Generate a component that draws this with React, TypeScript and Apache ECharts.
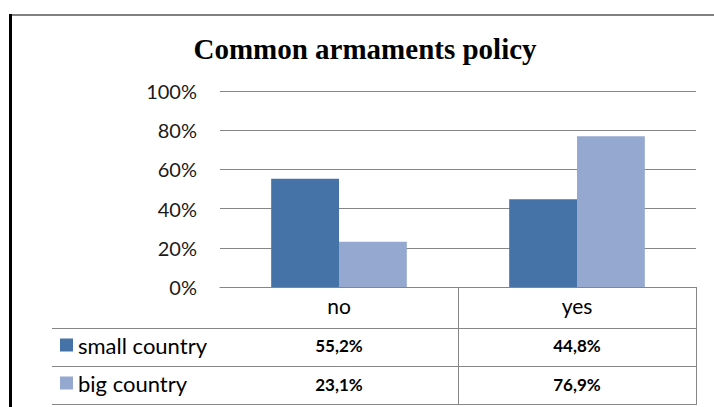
import React, { useEffect, useRef } from "react";
import * as echarts from "echarts";

const categories = ["no", "yes"];
const seriesNames = ["small country", "big country"];
const smallCountry = [55.2, 44.8];
const bigCountry = [23.1, 76.9];
const yTicks = [0, 20, 40, 60, 80, 100];
const colors = ["#4573a7", "#95a9d0"];

const fmt = (v: number) => v.toFixed(1).replace(".", ",") + "%";

export default function App() {
  const ref = useRef<HTMLDivElement>(null);
  useEffect(() => {
    document.body.style.margin = "0";
    const chart = echarts.init(ref.current!, null, { renderer: "svg" });
    const gridLine = "#868686";
    const sans = "Lato";
    chart.setOption({
      animation: false,
      backgroundColor: "#ffffff",
      title: {
        text: "Common armaments policy",
        left: 365,
        textAlign: "center",
        top: 34,
        padding: 0,
        textStyle: {
          fontFamily: "Liberation Serif",
          fontWeight: "bold",
          fontSize: 29,
          color: "#000",
        },
      },
      legend: {
        data: seriesNames,
        orient: "vertical",
        left: 60,
        top: 334,
        padding: 0,
        itemWidth: 13,
        itemHeight: 13,
        itemGap: 16,
        icon: "rect",
        textStyle: { fontFamily: sans, fontSize: 22, color: "#000" },
      },
      grid: { left: 220, right: 18, top: 91, bottom: 120, containLabel: false },
      xAxis: [
        {
          type: "category",
          data: categories,
          position: "bottom",
          axisLine: { show: true, lineStyle: { color: gridLine, width: 1 } },
          axisTick: { show: false },
          axisLabel: { fontFamily: sans, fontSize: 21, color: "#000", margin: 8, lineHeight: 21 },
        },
        {
          type: "category",
          data: smallCountry.map(fmt),
          position: "bottom",
          offset: 41,
          axisLine: { show: false },
          axisTick: { show: false },
          axisLabel: { fontFamily: sans, fontSize: 17, fontWeight: "bold", color: "#000", margin: 9, lineHeight: 17 },
        },
        {
          type: "category",
          data: bigCountry.map(fmt),
          position: "bottom",
          offset: 79,
          axisLine: { show: false },
          axisTick: { show: false },
          axisLabel: { fontFamily: sans, fontSize: 17, fontWeight: "bold", color: "#000", margin: 10, lineHeight: 17 },
        },
      ],
      yAxis: {
        type: "value",
        min: yTicks[0],
        max: yTicks[yTicks.length - 1],
        interval: yTicks[1] - yTicks[0],
        axisLine: { show: false },
        axisTick: { show: false },
        splitLine: { show: true, lineStyle: { color: gridLine, width: 1 } },
        axisLabel: { fontFamily: sans, fontSize: 20, color: "#1a1a1a", margin: 23, formatter: "{value}%" },
      },
      series: [
        {
          name: seriesNames[0],
          type: "bar",
          data: smallCountry,
          itemStyle: { color: colors[0] },
          barGap: "0%",
          barCategoryGap: "43%",
        },
        {
          name: seriesNames[1],
          type: "bar",
          data: bigCountry,
          itemStyle: { color: colors[1] },
          barGap: "0%",
          barCategoryGap: "43%",
        },
      ],
      graphic: [
        { type: "rect", shape: { x: 9, y: 14, width: 705, height: 2 }, style: { fill: "#808080" }, silent: true },
        { type: "rect", shape: { x: 9, y: 14, width: 3, height: 393 }, style: { fill: "#000" }, silent: true },
        { type: "line", shape: { x1: 52, y1: 328.5, x2: 696, y2: 328.5 }, style: { stroke: gridLine, lineWidth: 1 }, silent: true },
        { type: "line", shape: { x1: 52, y1: 366.5, x2: 696, y2: 366.5 }, style: { stroke: gridLine, lineWidth: 1 }, silent: true },
        { type: "line", shape: { x1: 52, y1: 404.5, x2: 696, y2: 404.5 }, style: { stroke: gridLine, lineWidth: 1 }, silent: true },
        { type: "line", shape: { x1: 458.5, y1: 287, x2: 458.5, y2: 405 }, style: { stroke: gridLine, lineWidth: 1 }, silent: true },
        { type: "line", shape: { x1: 696.5, y1: 287, x2: 696.5, y2: 405 }, style: { stroke: gridLine, lineWidth: 1 }, silent: true },
      ],
    });
    return () => chart.dispose();
  }, []);
  return <div ref={ref} style={{ position: "fixed", left: 0, top: 0, width: 714, height: 407 }} />;
}
